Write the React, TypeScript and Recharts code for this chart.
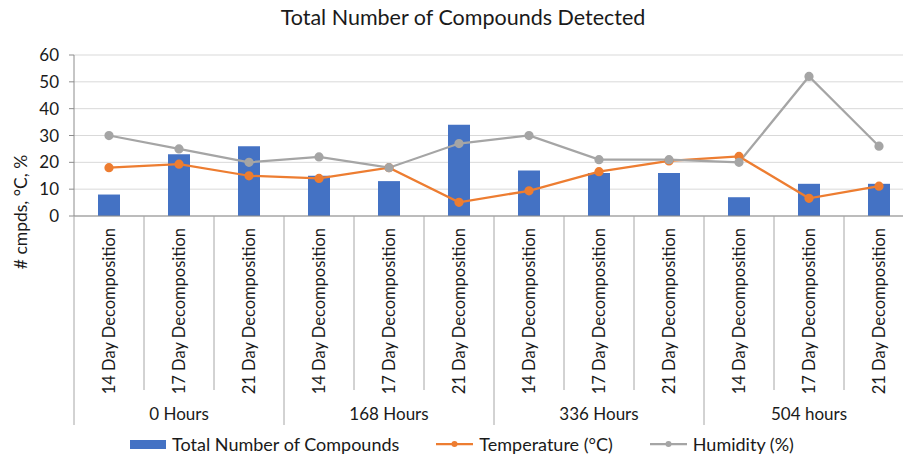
import { Bar, CartesianGrid, ComposedChart, Legend, Line, XAxis, YAxis } from "recharts";

const categories = [
  "14 Day Decomposition", "17 Day Decomposition", "21 Day Decomposition",
  "14 Day Decomposition", "17 Day Decomposition", "21 Day Decomposition",
  "14 Day Decomposition", "17 Day Decomposition", "21 Day Decomposition",
  "14 Day Decomposition", "17 Day Decomposition", "21 Day Decomposition",
];
const groups = ["0 Hours", "168 Hours", "336 Hours", "504 hours"];
const compounds = [8, 23, 26, 15, 13, 34, 17, 16, 16, 7, 12, 12];
const temperature = [18, 19.3, 15, 14, 18, 5.1, 9.4, 16.5, 20.5, 22.2, 6.6, 11.1];
const humidity = [30, 25, 20, 22, 18, 27, 30, 21, 21, 20, 52, 26];
const yTicks = [0, 10, 20, 30, 40, 50, 60];

const data = categories.map((c, i) => ({
  id: `${groups[Math.floor(i / 3)]}|${i}`,
  compounds: compounds[i],
  temperature: temperature[i],
  humidity: humidity[i],
}));

const FONT = "Lato, 'Open Sans', sans-serif";
const CHART_W = 930;
const CHART_H = 459;
const Y_W = 74;
const MARGIN = { top: 55, right: 16, left: 0, bottom: 0 };
const HALF = (CHART_W - Y_W - MARGIN.right) / categories.length / 2;
const SEP = "#a6a6a6";

function CategoryTick(props: any) {
  const { x, y, index } = props;
  const groupEnd = index % 3 === 2;
  return (
    <g>
      <text
        x={x}
        y={y + 12}
        transform={`rotate(-90, ${x}, ${y + 12})`}
        textAnchor="end"
        dy="0.36em"
        fontSize={16.5}
        fontFamily={FONT}
        fill="#1a1a1a"
      >
        {categories[index]}
      </text>
      {index === 0 && <line x1={x - HALF} x2={x - HALF} y1={y} y2={y + 209} stroke={SEP} />}
      <line x1={x + HALF} x2={x + HALF} y1={y} y2={y + (groupEnd ? 209 : 174)} stroke={SEP} />
      {index % 3 === 1 && (
        <text x={x} y={y + 198} textAnchor="middle" dy="0.36em" fontSize={17} fontFamily={FONT} fill="#1a1a1a">
          {groups[Math.floor(index / 3)]}
        </text>
      )}
    </g>
  );
}

function LegendContent() {
  const item = { display: "flex", alignItems: "center", gap: 6 } as const;
  return (
    <div style={{ display: "flex", justifyContent: "center", alignItems: "center", height: 33, gap: 37, fontFamily: FONT, fontSize: 18, color: "#1a1a1a", paddingLeft: 10, paddingTop: 3, boxSizing: "border-box" }}>
      <div style={item}>
        <span style={{ width: 36, height: 9, background: "#4472C4", display: "inline-block" }} />
        <span>Total Number of Compounds</span>
      </div>
      <div style={item}>
        <svg width={37} height={10}>
          <line x1={0} x2={37} y1={5} y2={5} stroke="#ED7D31" strokeWidth={2.25} />
          <circle cx={18.5} cy={5} r={3} fill="#ED7D31" />
        </svg>
        <span>Temperature (°C)</span>
      </div>
      <div style={item}>
        <svg width={37} height={10}>
          <line x1={0} x2={37} y1={5} y2={5} stroke="#A5A5A5" strokeWidth={2.25} />
          <circle cx={18.5} cy={5} r={3} fill="#A5A5A5" />
        </svg>
        <span>Humidity (%)</span>
      </div>
    </div>
  );
}

export default function App() {
  return (
    <div style={{ position: "absolute", left: 0, top: 0, width: 903, height: 459, overflow: "hidden", background: "#fff" }}>
      <div style={{ position: "absolute", left: 0, width: 926, top: 4, textAlign: "center", fontFamily: FONT, fontSize: 21.5, color: "#1a1a1a" }}>
        Total Number of Compounds Detected
      </div>
      <div
        style={{
          position: "absolute", left: 20, top: 212, transform: "translate(-50%, -50%) rotate(-90deg)",
          whiteSpace: "nowrap", fontFamily: FONT, fontSize: 17.5, color: "#1a1a1a",
        }}
      >
        # cmpds, °C, %
      </div>
      <ComposedChart width={CHART_W} height={CHART_H} data={data} margin={MARGIN} barSize={22}>
        <CartesianGrid vertical={false} stroke="#d9d9d9" />
        <XAxis
          dataKey="id"
          height={210}
          interval={0}
          tickSize={0}
          tickMargin={0}
          tickLine={false}
          stroke="#8c8c8c"
          tick={<CategoryTick />}
        />
        <YAxis
          width={Y_W}
          domain={[0, 60]}
          ticks={yTicks}
          tickSize={5}
          tickMargin={10}
          stroke="#8c8c8c"
          tick={{ fontSize: 17, fontFamily: FONT, fill: "#1a1a1a" }}
        />
        <Legend verticalAlign="bottom" content={<LegendContent />} />
        <Bar dataKey="compounds" fill="#4472C4" isAnimationActive={false} />
        <Line type="linear" dataKey="temperature" stroke="#ED7D31" strokeWidth={2.25} dot={{ r: 3.5, fill: "#ED7D31", stroke: "#ED7D31" }} isAnimationActive={false} />
        <Line type="linear" dataKey="humidity" stroke="#A5A5A5" strokeWidth={2.25} dot={{ r: 3.5, fill: "#A5A5A5", stroke: "#A5A5A5" }} isAnimationActive={false} />
      </ComposedChart>
    </div>
  );
}
